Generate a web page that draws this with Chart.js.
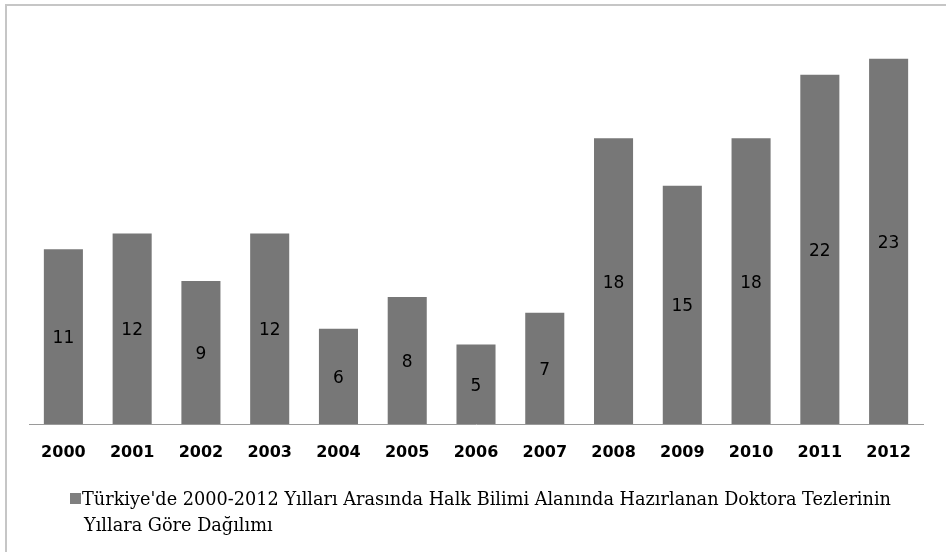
<!DOCTYPE html>
<html>
<head>
<meta charset="utf-8">
<script src="https://cdn.jsdelivr.net/npm/chart.js@4.4.1/dist/chart.umd.min.js"></script>
<style>
  html, body { margin: 0; padding: 0; background: #ffffff; }
  #wrap { width: 946px; height: 552px; position: relative; }
</style>
</head>
<body>
<div id="wrap"><canvas id="c" width="946" height="552"></canvas></div>
<script>
const categories = ['2000','2001','2002','2003','2004','2005','2006','2007','2008','2009','2010','2011','2012'];
const thesisCounts = [11, 12, 9, 12, 6, 8, 5, 7, 18, 15, 18, 22, 23];
const seriesName = "Türkiye'de 2000-2012 Yılları Arasında Halk Bilimi Alanında Hazırlanan Doktora Tezlerinin Yıllara Göre Dağılımı";
const legendLines = ["Türkiye'de 2000-2012 Yılları Arasında Halk Bilimi Alanında Hazırlanan Doktora Tezlerinin", "Yıllara Göre Dağılımı"];

const BAR_COLOR = '#777777';

const framePlugin = {
  id: 'frame',
  beforeDraw(chart) {
    const ctx = chart.ctx;
    ctx.save();
    ctx.fillStyle = '#ffffff';
    ctx.fillRect(0, 0, chart.width, chart.height);
    ctx.strokeStyle = '#c6c6c6';
    ctx.lineWidth = 2;
    ctx.strokeRect(6, 5, 1200, 1200);
    ctx.restore();
  }
};

const valueLabelPlugin = {
  id: 'valueLabels',
  afterDatasetsDraw(chart) {
    const ctx = chart.ctx;
    const meta = chart.getDatasetMeta(0);
    ctx.save();
    ctx.font = '17px "DejaVu Sans"';
    ctx.fillStyle = '#000000';
    ctx.textAlign = 'center';
    ctx.textBaseline = 'middle';
    meta.data.forEach((bar, i) => {
      const y = (bar.y + bar.base) / 2;
      ctx.fillText(String(chart.data.datasets[0].data[i]), bar.x, y + 2);
    });
    ctx.restore();
  }
};

const bottomLegendPlugin = {
  id: 'bottomLegend',
  afterDraw(chart) {
    const ctx = chart.ctx;
    ctx.save();
    ctx.fillStyle = '#7f7f7f';
    ctx.fillRect(70, 493, 11, 11);
    ctx.fillStyle = '#000000';
    ctx.font = '17.7px "DejaVu Serif"';
    ctx.textAlign = 'left';
    ctx.textBaseline = 'alphabetic';
    ctx.fillText(legendLines[0], 82, 505);
    ctx.fillText(legendLines[1], 84, 531);
    ctx.restore();
  }
};

new Chart(document.getElementById('c'), {
  type: 'bar',
  data: {
    labels: categories,
    datasets: [{
      label: seriesName,
      data: thesisCounts,
      backgroundColor: BAR_COLOR,
      borderWidth: 0,
      barPercentage: 0.568,
      categoryPercentage: 1.0
    }]
  },
  options: {
    responsive: false,
    animation: false,
    devicePixelRatio: 1,
    layout: { padding: { left: 29, right: 23, top: 27, bottom: 78 } },
    plugins: {
      legend: { display: false },
      tooltip: { enabled: false },
      title: { display: false }
    },
    scales: {
      x: {
        grid: { display: false, drawTicks: false },
        border: { display: true, color: '#9a9a9a', width: 1 },
        ticks: {
          color: '#000000',
          font: { family: '"DejaVu Sans"', size: 16, weight: 'bold' },
          padding: 19,
          maxRotation: 0,
          autoSkip: false
        },
        afterFit(scale) { scale.height = 50; }
      },
      y: {
        display: false,
        min: 0,
        max: 25
      }
    }
  },
  plugins: [framePlugin, valueLabelPlugin, bottomLegendPlugin]
});
</script>
</body>
</html>
